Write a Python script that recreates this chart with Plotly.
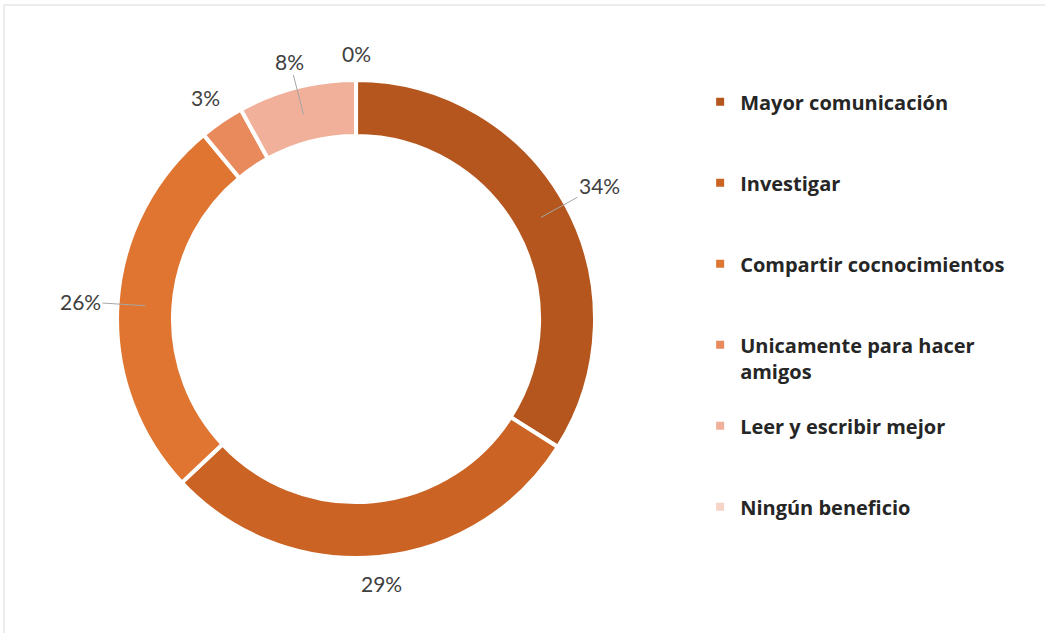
import math
import plotly.graph_objects as go

# Survey answers and their shares (%)
categories = [
    "Mayor comunicación",
    "Investigar",
    "Compartir cocnocimientos",
    "Unicamente para hacer<br>amigos",
    "Leer y escribir mejor",
    "Ningún beneficio",
]
shares = [34, 29, 26, 3, 8, 0]
slice_colors = ["#B4561D", "#CB6324", "#DF7530", "#E98A5C", "#F0B09A", "#F6D3C6"]
# which percentage labels get a thin connector line back to their slice
with_leader = [True, False, True, False, True, False]

W, H = 1045, 633
dom_x = [0.112, 0.5694]
dom_y = [0.1185, 0.8736]
HOLE = 0.766

# pad every legend entry to the same number of lines so the rows are evenly spaced
legend_names = []
for name in categories:
    n_lines = name.count("<br>") + 1
    legend_names.append(name + "<br> " * (3 - n_lines))

fig = go.Figure(
    go.Pie(
        labels=legend_names,
        values=shares,
        hole=HOLE,
        sort=False,
        direction="clockwise",
        rotation=0,
        marker=dict(colors=slice_colors, line=dict(color="white", width=4)),
        textinfo="none",
        hoverinfo="label+percent",
        domain=dict(x=dom_x, y=dom_y),
        showlegend=True,
    )
)

# ring geometry in pixels (margins are zero, so paper == page)
cx = (dom_x[0] + dom_x[1]) / 2 * W
cy = (1 - (dom_y[0] + dom_y[1]) / 2) * H
R = min((dom_x[1] - dom_x[0]) * W, (dom_y[1] - dom_y[0]) * H) / 2
r_mid = R * (1 + HOLE) / 2
GAP = 16          # clearance between ring and label box
HALF_W, HALF_H = 21, 11   # approximate half size of a percentage label

label_font = dict(family="Lato", size=21, color="#404040")
annotations = []
total = sum(shares)
cum = 0.0
for val, lead in zip(shares, with_leader):
    theta = 2 * math.pi * (cum + val / 2) / total   # clockwise from 12 o'clock
    cum += val
    ux, uy = math.sin(theta), -math.cos(theta)      # pixel direction (y down)
    reach = min(HALF_W / abs(ux) if abs(ux) > 1e-9 else 1e9,
                HALF_H / abs(uy) if abs(uy) > 1e-9 else 1e9)
    r_lab = R + GAP + reach
    lx, ly = cx + r_lab * ux, cy + r_lab * uy
    text = f"{val}%"
    if lead:
        hx, hy = cx + r_mid * ux, cy + r_mid * uy
        annotations.append(dict(
            x=hx / W, y=1 - hy / H, xref="paper", yref="paper",
            text=text, font=label_font, showarrow=True,
            axref="pixel", ayref="pixel", ax=lx - hx, ay=ly - hy,
            arrowhead=0, arrowwidth=1, arrowcolor="#A6A6A6", standoff=0,
            xanchor="center", yanchor="middle",
        ))
    else:
        annotations.append(dict(
            x=lx / W, y=1 - ly / H, xref="paper", yref="paper",
            text=text, font=label_font, showarrow=False,
            xanchor="center", yanchor="middle",
        ))

fig.update_layout(
    width=W,
    height=H,
    margin=dict(l=0, r=0, t=0, b=0),
    paper_bgcolor="white",
    plot_bgcolor="white",
    annotations=annotations,
    legend=dict(
        x=0.67,
        y=0.87,
        xanchor="left",
        yanchor="top",
        valign="top",
        font=dict(family="Open Sans", size=20, color="#262626", weight="bold"),
        traceorder="normal",
    ),
    shapes=[
        dict(
            type="rect", xref="paper", yref="paper",
            x0=4 / W, x1=1.05, y0=-0.05, y1=1 - 5 / H,
            line=dict(color="#D9D9D9", width=1),
        )
    ],
)

fig.write_html("out.html")
